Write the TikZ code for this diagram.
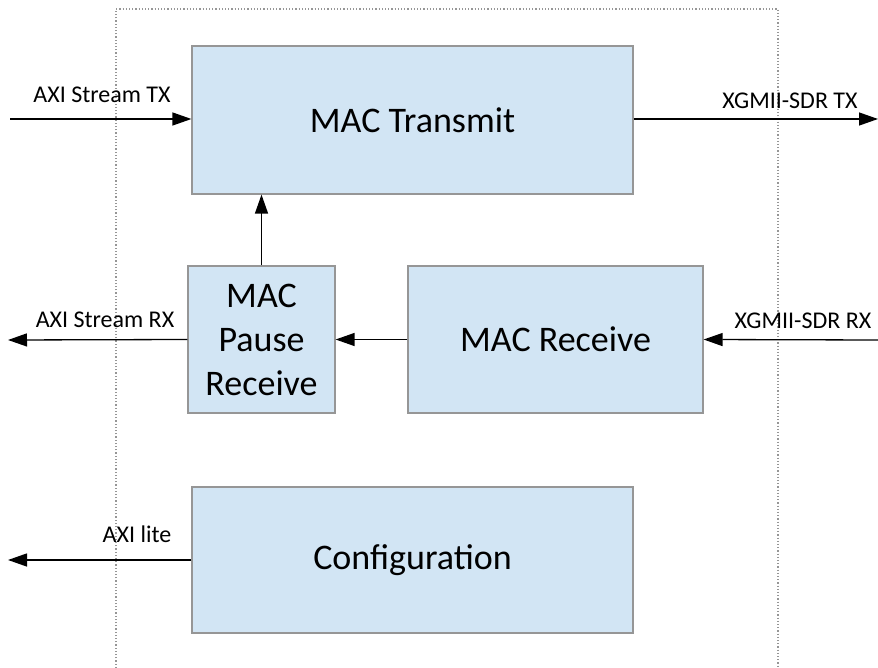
\documentclass[tikz,border=0pt]{standalone}
\usepackage{fontspec}
\setmainfont{Carlito}
\usetikzlibrary{arrows.meta, positioning}

\definecolor{blockfill}{RGB}{210,229,244}
\definecolor{blockline}{RGB}{150,150,150}

\begin{document}
\begin{tikzpicture}[x=1pt,y=-1pt,>={Triangle[length=19pt,width=13pt]},
  block/.style={draw=blockline, line width=1.2pt, fill=blockfill, font=\fontsize{36}{44}\selectfont, align=center, inner sep=0pt},
  sig/.style={->, line width=1.3pt},
  lbl/.style={font=\fontsize{24}{28}\selectfont, inner sep=0pt}]
  \useasboundingbox (0,0) rectangle (878,668);
  % boundary of the core
  \draw[blockline, dotted, line width=1.2pt] (116,668) |- (778,9) -- (778,668);
  % blocks
  \node[block, minimum width=441pt, minimum height=148pt] (tx) at (412.5,120) {MAC Transmit};
  \node[block, minimum width=147pt, minimum height=147pt] (pause) at (261.5,339.5) {MAC\\Pause\\Receive};
  \node[block, minimum width=295pt, minimum height=147pt] (rx) at (555.5,339.5) {MAC Receive};
  \node[block, minimum width=441pt, minimum height=146pt] (cfg) at (412.5,560) {Configuration};
  % outside ends
  \coordinate (txin) at (10,119);
  \coordinate (txout) at (878,119);
  \coordinate (rxin) at (878,340);
  \coordinate (rxout) at (8,340);
  \coordinate (liteout) at (8,560);
  % connectors
  \draw[sig] (txin) -- (txin -| tx.west);
  \draw[sig] (txout -| tx.east) -- (txout);
  \draw[sig] (pause.north) -- (tx.south -| pause.north);
  \draw[sig] (rx.west) -- (pause.east);
  \draw[sig] (pause.west) -- (rxout);
  \draw[sig] (rxin) -- (rx.east);
  \draw[sig] (cfg.west) -- (liteout);
  % labels
  \node[lbl] (txlbl) at (102,95) {AXI Stream TX};
  \node[lbl] (xtxlbl) at (790,101) {XGMII-SDR TX};
  \node[lbl] (rxlbl) at (105,320) {AXI Stream RX};
  \node[lbl] (xrxlbl) at (803,321) {XGMII-SDR RX};
  \node[lbl] (litelbl) at (137,534) {AXI lite};
\end{tikzpicture}
\end{document}
